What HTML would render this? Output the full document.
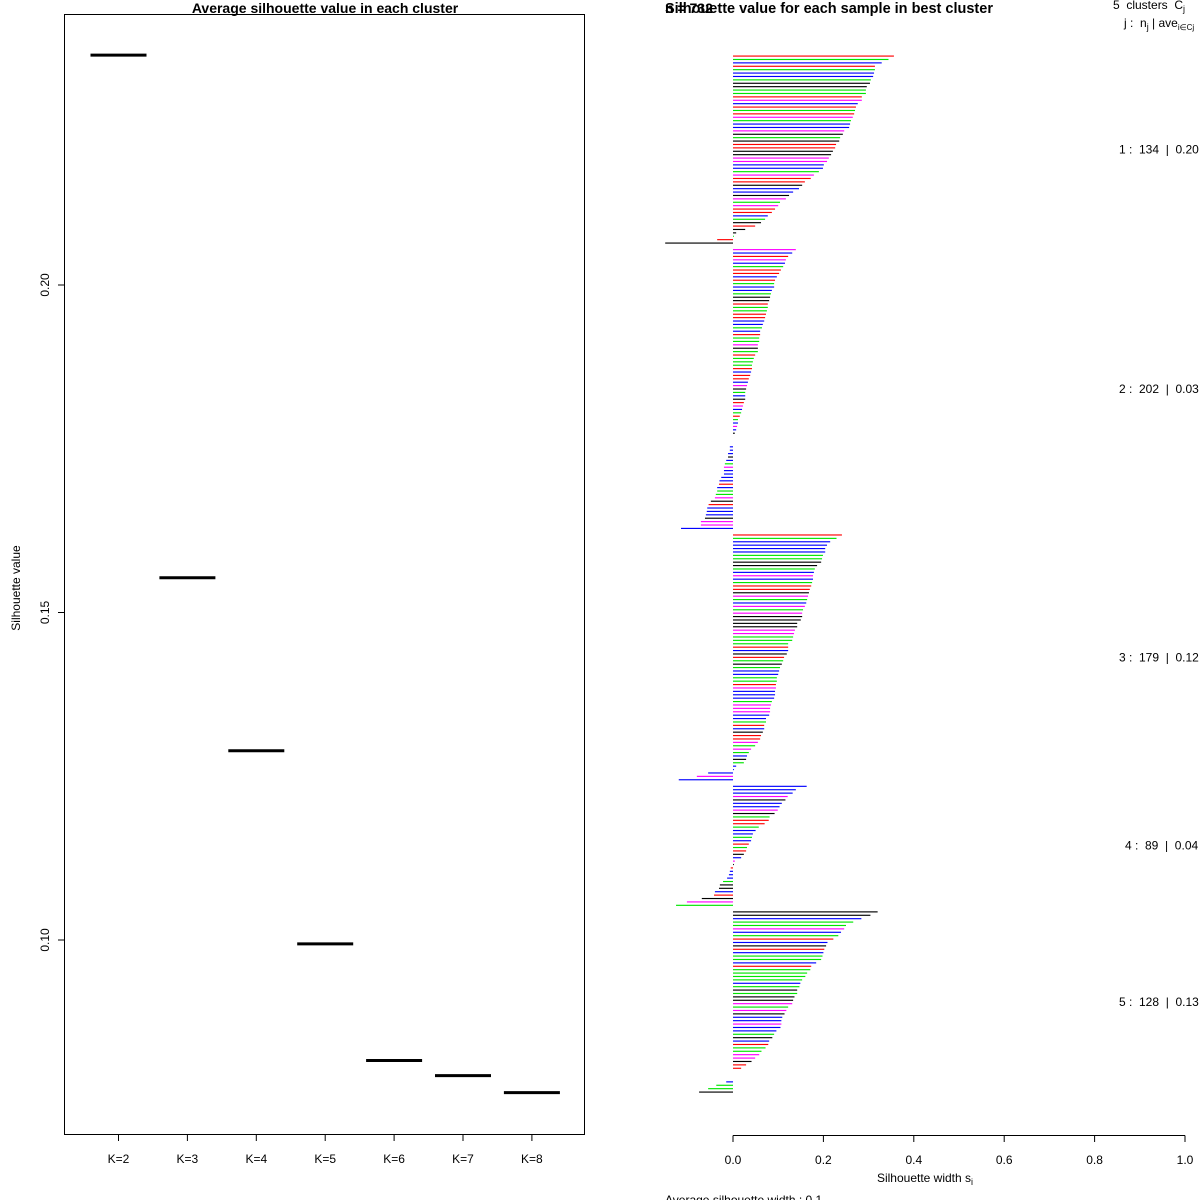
<!DOCTYPE html>
<html><head><meta charset="utf-8"><style>
html,body{margin:0;padding:0;background:#fff;}
svg{display:block;font-family:"Liberation Sans",Arial,sans-serif;}
.pre{white-space:pre;}
</style></head><body>
<svg id="chart" width="1200" height="1200" viewBox="0 0 1200 1200" xmlns="http://www.w3.org/2000/svg">
<rect x="0" y="0" width="1200" height="1200" fill="#fff"/>
<g id="left">
<rect x="64.5" y="14.5" width="520" height="1120" fill="none" stroke="#000" stroke-width="1"/>
<text x="325" y="13" font-size="14" font-weight="bold" text-anchor="middle">Average silhouette value in each cluster</text>
<text transform="translate(20,588) rotate(-90)" font-size="12" text-anchor="middle">Silhouette value</text>
</g>
<g id="right">
<text x="665" y="13" font-size="14.5" font-weight="bold">Silhouette value for each sample in best cluster</text>
<text x="665" y="13" font-size="14" font-weight="bold">n = 732</text>
<text class="pre" x="1113" y="9" font-size="12">5  clusters  C<tspan font-size="9" dy="3">j</tspan></text>
<text class="pre" x="1124" y="27" font-size="12">j :  n<tspan font-size="9" dy="3">j</tspan><tspan dy="-3"> | ave</tspan><tspan font-size="8" dy="3">i∈Cj</tspan><tspan dy="-3">  s</tspan><tspan font-size="9" dy="3">i</tspan></text>
<text x="925" y="1182" font-size="12" text-anchor="middle">Silhouette width s<tspan font-size="9" dy="3">i</tspan></text>
<text x="665" y="1204" font-size="12">Average silhouette width : 0.1</text>
</g>
</svg>
<script>
// Left panel data
const kLabels = ["K=2","K=3","K=4","K=5","K=6","K=7","K=8"];
const avgSil = [0.2351,0.1553,0.1289,0.0994,0.0816,0.0793,0.0767];
const yTicks = [0.10,0.15,0.20];
const yTickLabels = ["0.10","0.15","0.20"];

// Right panel data (visible bars per cluster, top to bottom)
const c1Vals = [0.356,0.344,0.329,0.314,0.314,0.312,0.310,0.305,0.303,0.296,0.294,0.294,0.285,0.285,0.276,0.272,0.270,0.268,0.265,0.261,0.259,0.257,0.246,0.243,0.237,0.235,0.228,0.226,0.221,0.217,0.212,0.208,0.201,0.199,0.190,0.179,0.172,0.159,0.153,0.146,0.133,0.124,0.117,0.104,0.100,0.093,0.086,0.077,0.071,0.062,0.049,0.027,0.007,0.002,-0.035,-0.150];
const c1Cols = "rgbrgbbgkkggrmbrgrmgbbmkgkrrkkmmbbgmrrkbbkmgmrrbgkrkkgrk";
const c2Vals = [0.139,0.131,0.122,0.117,0.115,0.111,0.106,0.102,0.097,0.093,0.091,0.091,0.086,0.084,0.082,0.080,0.077,0.077,0.075,0.073,0.071,0.069,0.066,0.064,0.060,0.060,0.058,0.058,0.055,0.055,0.055,0.049,0.046,0.044,0.042,0.042,0.040,0.038,0.035,0.033,0.031,0.029,0.027,0.027,0.027,0.024,0.022,0.020,0.018,0.015,0.011,0.011,0.009,0.007,0.004,0,0,0,-0.007,-0.007,-0.011,-0.011,-0.015,-0.018,-0.020,-0.020,-0.020,-0.026,-0.030,-0.031,-0.035,-0.035,-0.038,-0.040,-0.049,-0.054,-0.057,-0.058,-0.060,-0.062,-0.071,-0.071,-0.115];
const c2Cols = "mbrmbgrrbrgbbgkkrggrrbbgbrggmkgrgggrbrrbmkgbkrmbgrgbmbkkkkbbbkbgmbbbbrbggmkrbbbkmmb";
const c3Vals = [0.241,0.229,0.215,0.208,0.204,0.204,0.199,0.197,0.195,0.186,0.181,0.179,0.177,0.177,0.175,0.173,0.170,0.168,0.166,0.164,0.162,0.159,0.155,0.153,0.153,0.150,0.142,0.142,0.137,0.135,0.133,0.131,0.122,0.122,0.122,0.119,0.113,0.111,0.108,0.104,0.102,0.100,0.097,0.097,0.095,0.095,0.093,0.093,0.091,0.086,0.084,0.082,0.082,0.080,0.073,0.073,0.069,0.069,0.066,0.062,0.060,0.055,0.049,0.040,0.035,0.031,0.029,0.024,0.007,0.002,-0.055,-0.080,-0.120];
const c3Cols = "rgbbbbggkkgbmbgrrkmgbmgmkkkkmmgggrbkrgkgbbggrmbbbgmmmbbgrbkrrmgmgbkgbbbmbr";
const c4Vals = [0.163,0.139,0.132,0.121,0.116,0.108,0.103,0.099,0.092,0.081,0.079,0.070,0.057,0.050,0.044,0.042,0.040,0.035,0.031,0.029,0.024,0.018,0.004,0.002,-0.005,-0.007,-0.009,-0.013,-0.022,-0.029,-0.031,-0.040,-0.042,-0.069,-0.102,-0.126];
const c4Cols = "bbbmkbbmkgrrgbbgbrgrkbmkrbbbgkkbrkmg";
const c5Vals = [0.320,0.304,0.284,0.266,0.250,0.246,0.239,0.233,0.222,0.209,0.206,0.202,0.200,0.198,0.195,0.184,0.173,0.171,0.164,0.160,0.153,0.149,0.147,0.142,0.142,0.136,0.133,0.131,0.122,0.118,0.114,0.109,0.107,0.107,0.105,0.096,0.091,0.087,0.080,0.078,0.072,0.063,0.058,0.049,0.041,0.029,0.018,0,0,0,-0.015,-0.037,-0.055,-0.075];
const c5Cols = "kkbggmbgrbkrbggbrggggbgkgkkmgmkbbmbbgkbrggmmkrrkkkbggk";
const clusterLabels = ["1 :  134  |  0.20","2 :  202  |  0.03","3 :  179  |  0.12","4 :  89  |  0.04","5 :  128  |  0.13"];
const silTicks = [0,0.2,0.4,0.6,0.8,1.0];
const silTickLabels = ["0.0","0.2","0.4","0.6","0.8","1.0"];

const NS = "http://www.w3.org/2000/svg";
const left = document.getElementById('left');
const right = document.getElementById('right');
function mk(tag, parent, attrs){ const e=document.createElementNS(NS,tag); for(const k in attrs) e.setAttribute(k,attrs[k]); parent.appendChild(e); return e; }

// Left axes
const yScale = v => 285 - (v-0.20)*6550;
const xK = i => 118.5 + i*68.9;
yTicks.forEach((t,i)=>{
  const y=yScale(t);
  const tk=mk('line',left,{x1:58,x2:64.5,y1:y,y2:y,stroke:'#000'});
  
  
  const tx=mk('text',left,{transform:`translate(49,${y}) rotate(-90)`,'font-size':12,'text-anchor':'middle'});
  
  
  tx.textContent=yTickLabels[i];
});
kLabels.forEach((lab,i)=>{
  const x=xK(i);
  const tk=mk('line',left,{x1:x,x2:x,y1:1134.5,y2:1141,stroke:'#000'});
  
  
  const tx=mk('text',left,{x:x,y:1163,'font-size':12,'text-anchor':'middle'});
  
  
  tx.textContent=lab;
  const y=yScale(avgSil[i]);
  const seg=mk('line',left,{x1:x-28,x2:x+28,y1:y,y2:y,stroke:'#000','stroke-width':3});
  
  
});

// Right panel
const colMap = {r:'#ff0000',g:'#00e600',b:'#0000ff',m:'#ff00ff',k:'#000000'};
const sx = v => 733 + v*452;
const clusters = [[c1Vals,c1Cols],[c2Vals,c2Cols],[c3Vals,c3Cols],[c4Vals,c4Cols],[c5Vals,c5Cols]];
const total = clusters.reduce((s,c)=>s+c[0].length,0);
const gap = 0.93;
const step = (1092-56)/((total-1)+gap*(clusters.length-1));
let idx=0;
clusters.forEach((c,ci)=>{
  const g=mk('g',right,{});
  
  
  const startY = 56+(idx+ci*gap)*step;
  c[0].forEach((v,j)=>{
    const y=56+(idx+ci*gap)*step;
    idx++;
    if(v===0) return;
    const x0=Math.min(sx(0),sx(v)), w=Math.abs(sx(v)-sx(0));
    const r=mk('rect',g,{x:x0,y:y-0.5,width:w,height:1.15,fill:colMap[c[1][j]]||'#000'});
    
    
  });
  const endY = 56+(idx-1+ci*gap)*step;
  const lab=mk('text',right,{x:ci===3?1125:1119,y:(startY+endY)/2+4,'font-size':12,'class':'pre'});
  
  
  lab.textContent=clusterLabels[ci];
});
const ax=mk('line',right,{x1:sx(0),x2:sx(1),y1:1135.5,y2:1135.5,stroke:'#000'});


silTicks.forEach((t,i)=>{
  const x=sx(t);
  const tk=mk('line',right,{x1:x,x2:x,y1:1135.5,y2:1142,stroke:'#000'});
  
  
  const tx=mk('text',right,{x:x,y:1164,'font-size':12,'text-anchor':'middle'});
  
  
  tx.textContent=silTickLabels[i];
});
</script>
</body></html>
